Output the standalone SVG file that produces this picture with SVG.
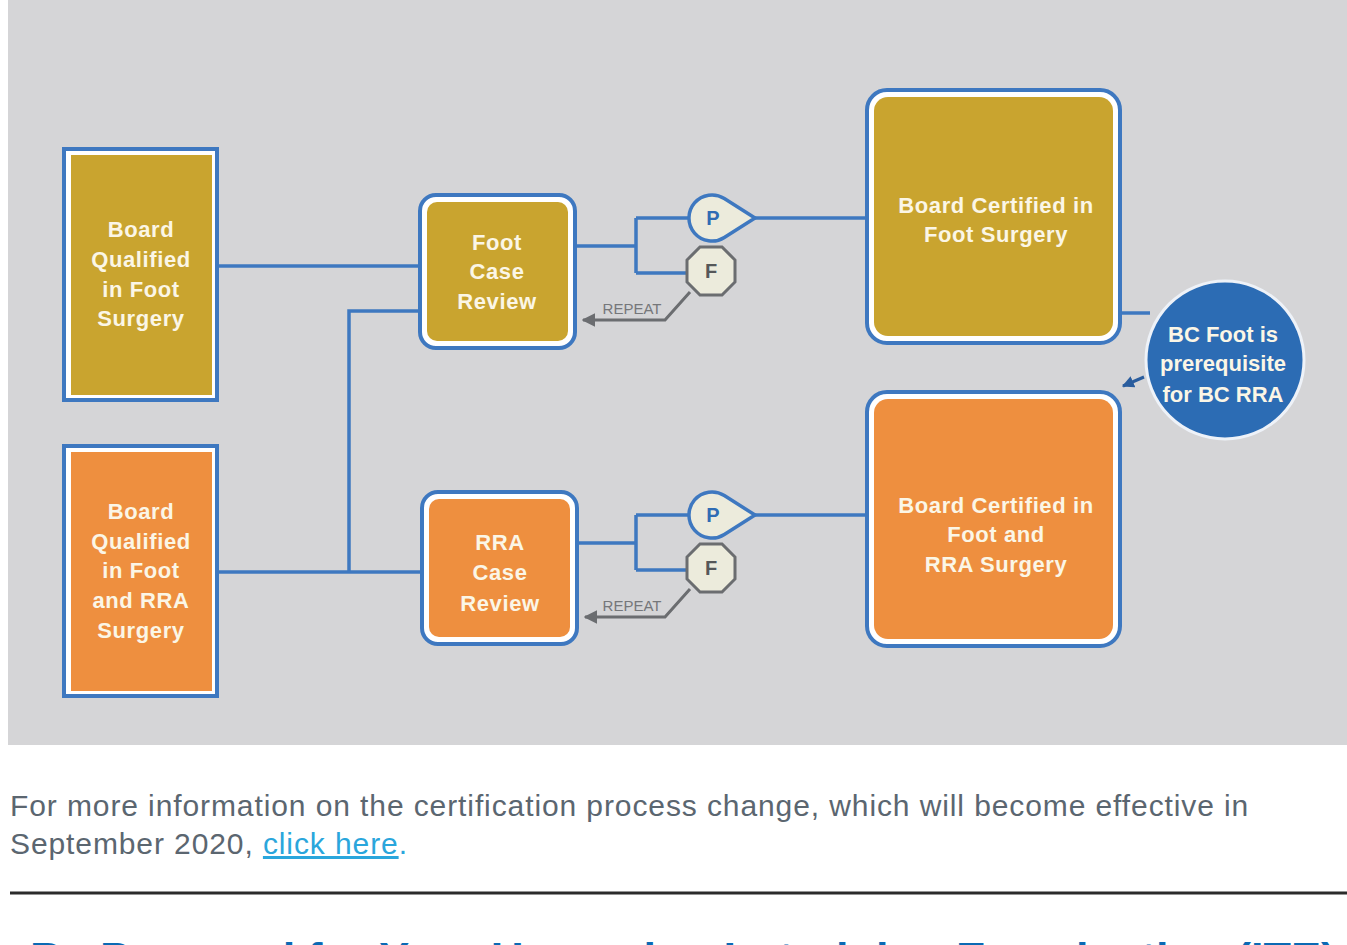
<svg xmlns="http://www.w3.org/2000/svg" width="1347" height="945" viewBox="0 0 1347 945">
  <style>
    .frame { fill: #ffffff; stroke: #3e78c0; stroke-width: 4; }
    .gold { fill: #c9a42f; }
    .orange { fill: #ee8f3f; }
    .label { font-family: "Liberation Sans", Arial, sans-serif; font-weight: bold; font-size: 22px; fill: #fbf6e6; text-anchor: middle; letter-spacing: 0.6px; }
    .note { letter-spacing: 0px; }
    .wire { fill: none; stroke: #3e78c0; stroke-width: 3.5; }
    .repeat { fill: none; stroke: #6b6d70; stroke-width: 3; }
    .repeat-text { font-family: "Liberation Sans", Arial, sans-serif; font-size: 15px; fill: #75777a; text-anchor: middle; }
    .pass { fill: #ecebdc; stroke: #3e78c0; stroke-width: 3.5; }
    .fail { fill: #ecebdc; stroke: #6b6d70; stroke-width: 3; }
    .pass-text { font-family: "Liberation Sans", Arial, sans-serif; font-weight: bold; font-size: 20px; fill: #2f6cb4; text-anchor: middle; }
    .fail-text { font-family: "Liberation Sans", Arial, sans-serif; font-weight: bold; font-size: 20px; fill: #555759; text-anchor: middle; }
    .body { font-family: "Liberation Sans", Arial, sans-serif; font-size: 30px; fill: #5b6670; letter-spacing: 0.9px; }
    .link { fill: #2aa6dc; }
    .heading { font-family: "Liberation Sans", Arial, sans-serif; font-weight: bold; font-size: 45px; fill: #0b6ab4; }
  </style>
  <defs>
    <marker id="arrow-gray" viewBox="0 0 10 10" refX="9" refY="5" markerWidth="4.5" markerHeight="4.5" orient="auto" markerUnits="strokeWidth">
      <path d="M0,0 L10,5 L0,10 Z" fill="#6b6d70"/>
    </marker>
    <marker id="arrow-blue" viewBox="0 0 10 10" refX="9" refY="5" markerWidth="4" markerHeight="4" orient="auto" markerUnits="strokeWidth">
      <path d="M0,0 L10,5 L0,10 Z" fill="#2a5d9e"/>
    </marker>
    <path id="pass-shape" d="M43,0 L12.3,-19.4 A23,23 0 1,0 12.3,19.4 Z"/>
    <polygon id="fail-shape" points="-11,-24 11,-24 24,-11 24,11 11,24 -11,24 -24,11 -24,-11"/>
  </defs>

  <!-- panel background -->
  <rect x="8" y="0" width="1339" height="745" fill="#d5d5d7"/>

  <!-- connectors -->
  <g id="connectors">
    <path class="wire" d="M219,266 H420"/>
    <path class="wire" d="M219,572 H422"/>
    <path class="wire" d="M349,572 V311 H420"/>
    <!-- foot case review outcomes -->
    <path class="wire" d="M575,246 H636 M636,218 V273 M636,218 H690 M636,273 H690"/>
    <path class="wire" d="M755,218 H867"/>
    <!-- rra case review outcomes -->
    <path class="wire" d="M577,543 H636 M636,515 V570 M636,515 H690 M636,570 H690"/>
    <path class="wire" d="M755,515 H867"/>
    <!-- repeat loops -->
    <path class="repeat" d="M690,292 L665,320 H583" marker-end="url(#arrow-gray)"/>
    <path class="repeat" d="M690,589 L665,617 H585" marker-end="url(#arrow-gray)"/>
    <text class="repeat-text" x="632" y="314">REPEAT</text>
    <text class="repeat-text" x="632" y="611">REPEAT</text>
    <!-- prerequisite link -->
    <path class="wire" d="M1120,313 H1150"/>
    <path d="M1144,377 L1123,386" fill="none" stroke="#2a5d9e" stroke-width="3" marker-end="url(#arrow-blue)"/>
  </g>

  <!-- outcome markers -->
  <g id="pass-foot">
    <use href="#pass-shape" class="pass" x="712" y="218"/>
    <text class="pass-text" x="713" y="225">P</text>
  </g>
  <g id="fail-foot">
    <use href="#fail-shape" class="fail" x="711" y="271"/>
    <text class="fail-text" x="711" y="278">F</text>
  </g>
  <g id="pass-rra">
    <use href="#pass-shape" class="pass" x="712" y="515"/>
    <text class="pass-text" x="713" y="522">P</text>
  </g>
  <g id="fail-rra">
    <use href="#fail-shape" class="fail" x="711" y="568"/>
    <text class="fail-text" x="711" y="575">F</text>
  </g>

  <!-- qualification nodes -->
  <g id="bq-foot">
    <rect class="frame" x="64" y="149" width="153" height="251"/>
    <rect class="gold" x="71" y="155" width="141" height="240"/>
    <text class="label" x="141" y="237">Board</text>
    <text class="label" x="141" y="267">Qualified</text>
    <text class="label" x="141" y="297">in Foot</text>
    <text class="label" x="141" y="326">Surgery</text>
  </g>
  <g id="bq-foot-rra">
    <rect class="frame" x="64" y="446" width="153" height="250"/>
    <rect class="orange" x="71" y="452" width="141" height="239"/>
    <text class="label" x="141" y="519">Board</text>
    <text class="label" x="141" y="549">Qualified</text>
    <text class="label" x="141" y="578">in Foot</text>
    <text class="label" x="141" y="608">and RRA</text>
    <text class="label" x="141" y="638">Surgery</text>
  </g>

  <!-- case review nodes -->
  <g id="foot-case-review">
    <rect class="frame" x="420" y="195" width="155" height="153" rx="16"/>
    <rect class="gold" x="427" y="202" width="141" height="139" rx="10"/>
    <text class="label" x="497" y="250">Foot</text>
    <text class="label" x="497" y="279">Case</text>
    <text class="label" x="497" y="309">Review</text>
  </g>
  <g id="rra-case-review">
    <rect class="frame" x="422" y="492" width="155" height="152" rx="16"/>
    <rect class="orange" x="429" y="499" width="141" height="138" rx="10"/>
    <text class="label" x="500" y="550">RRA</text>
    <text class="label" x="500" y="580">Case</text>
    <text class="label" x="500" y="611">Review</text>
  </g>

  <!-- certification nodes -->
  <g id="bc-foot">
    <rect class="frame" x="867" y="90" width="253" height="253" rx="20"/>
    <rect class="gold" x="874" y="97" width="239" height="239" rx="14"/>
    <text class="label" x="996" y="213">Board Certified in</text>
    <text class="label" x="996" y="242">Foot Surgery</text>
  </g>
  <g id="bc-foot-rra">
    <rect class="frame" x="867" y="392" width="253" height="254" rx="20"/>
    <rect class="orange" x="874" y="399" width="239" height="240" rx="14"/>
    <text class="label" x="996" y="513">Board Certified in</text>
    <text class="label" x="996" y="542">Foot and</text>
    <text class="label" x="996" y="572">RRA Surgery</text>
  </g>

  <!-- prerequisite note -->
  <g id="prerequisite">
    <circle cx="1225" cy="360" r="79" fill="#2c6cb4" stroke="#eef2f8" stroke-width="3"/>
    <text class="label note" x="1223" y="342">BC Foot is</text>
    <text class="label note" x="1223" y="371">prerequisite</text>
    <text class="label note" x="1223" y="402">for BC RRA</text>
  </g>

  <!-- page text below the chart -->
  <g id="page-text">
    <text class="body" x="10" y="816">For more information on the certification process change, which will become effective in</text>
    <text class="body" x="10" y="854" letter-spacing="0.7">September 2020, <tspan class="link" text-decoration="underline">click here</tspan><tspan class="link">.</tspan></text>
    <line x1="10" y1="893" x2="1347" y2="893" stroke="#2b2b2b" stroke-width="3"/>
    <text class="heading" x="30" y="974">Be Prepared for Your Upcoming In-training Examination (ITE)</text>
  </g>
</svg>
